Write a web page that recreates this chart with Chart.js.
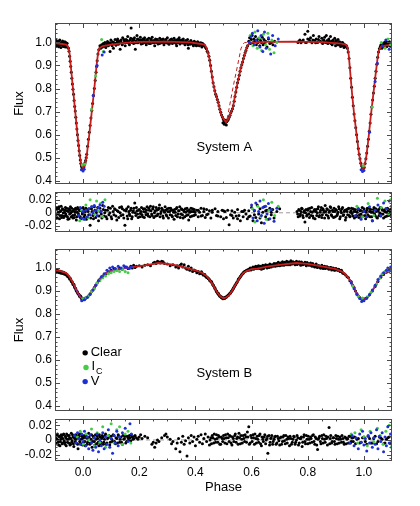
<!DOCTYPE html>
<html>
<head>
<meta charset="utf-8">
<script src="https://cdn.jsdelivr.net/npm/chart.js@4.4.1/dist/chart.umd.min.js"></script>
<style>
  html, body { margin: 0; padding: 0; background: #fff; }
  #wrap { position: relative; width: 420px; height: 506px; }
  canvas { position: absolute; left: 0; }
</style>
</head>
<body>
<div id="wrap">
  <canvas id="fluxA" width="420" height="188" style="top:0px"></canvas>
  <canvas id="resA" width="420" height="48" style="top:188px"></canvas>
  <canvas id="fluxB" width="420" height="177" style="top:238px"></canvas>
  <canvas id="resB" width="420" height="91" style="top:415px"></canvas>
</div>
<script>
// tick labels
var phaseTicks = [0.0, 0.2, 0.4, 0.6, 0.8, 1.0];
var fluxTicks = [0.4, 0.5, 0.6, 0.7, 0.8, 0.9, 1.0];
var resTicks = [-0.02, 0, 0.02];

// System A : model curves (phase, flux)
var modelA = [-0.1,0.997, -0.08,0.994, -0.06,0.99, -0.053,0.98, -0.048,0.95, -0.044,0.9, -0.036,0.8, -0.028,0.7,
  -0.02,0.6, -0.012,0.51, -0.006,0.468, 0.0,0.455, 0.006,0.466, 0.013,0.51, 0.022,0.6, 0.031,0.7, 0.04,0.8,
  0.048,0.9, 0.053,0.95, 0.058,0.975, 0.07,0.984, 0.1,0.99, 0.15,0.998, 0.2,1.002, 0.3,1.003, 0.38,1.0,
  0.42,0.993, 0.433,0.99, 0.44,0.975, 0.45,0.93, 0.456,0.88, 0.462,0.83, 0.47,0.785, 0.48,0.744, 0.492,0.687,
  0.5,0.668, 0.51,0.655, 0.516,0.665, 0.525,0.69, 0.533,0.715, 0.542,0.775, 0.551,0.83, 0.56,0.88, 0.568,0.915,
  0.577,0.955, 0.586,0.987, 0.595,0.998, 0.65,1.002, 0.75,1.003, 0.85,1.001, 0.92,0.995, 0.935,0.99,
  0.941,0.982, 0.946,0.945, 0.952,0.86, 0.958,0.775, 0.965,0.69, 0.974,0.6, 0.982,0.52, 0.989,0.475,
  0.995,0.456, 1.0,0.455, 1.008,0.5, 1.016,0.58, 1.024,0.675, 1.033,0.77, 1.041,0.855, 1.048,0.925,
  1.053,0.965, 1.06,0.98, 1.075,0.986, 1.1,0.99];
var modelA2 = [0.49,0.69, 0.5,0.668, 0.508,0.652, 0.514,0.675, 0.521,0.72, 0.53,0.78, 0.539,0.835, 0.551,0.905,
  0.562,0.972, 0.568,0.99, 0.575,0.999, 0.62,1.002];

// System A : Clear
var clearA = [-0.099,1.002, -0.097,0.993, -0.095,1.008, -0.093,0.985, -0.091,0.998, -0.089,1.004, -0.087,0.981,
  -0.085,0.996, -0.083,1.01, -0.081,0.99, -0.079,0.978, -0.077,1.0, -0.075,0.992, -0.073,1.006, -0.071,0.984,
  -0.069,0.997, -0.067,0.989, -0.065,1.003, -0.063,0.98, -0.061,0.993, -0.059,0.987, -0.057,0.996, -0.055,0.979,
  -0.098,0.99, -0.094,0.996, -0.09,0.988, -0.086,1.005, -0.082,0.994, -0.078,0.99, -0.074,0.998, -0.07,0.982,
  -0.066,0.995, -0.062,1.0, -0.058,0.983,
  -0.052,0.975, -0.05,0.962, -0.048,0.94, -0.046,0.918, -0.044,0.895, -0.042,0.87, -0.04,0.845, -0.038,0.82,
  -0.036,0.797, -0.034,0.775, -0.032,0.748, -0.03,0.722, -0.028,0.703, -0.026,0.675, -0.024,0.65, -0.022,0.624,
  -0.02,0.6, -0.018,0.575, -0.016,0.553, -0.014,0.53, -0.012,0.51, -0.01,0.49, -0.008,0.475, -0.006,0.465,
  -0.004,0.458, -0.002,0.455, 0.001,0.452, 0.003,0.46, 0.005,0.47, 0.007,0.478, 0.009,0.488, 0.011,0.5,
  0.013,0.515, 0.016,0.55, 0.019,0.58, 0.022,0.61, 0.025,0.64, 0.028,0.672, 0.031,0.705, 0.034,0.735,
  0.037,0.77, 0.04,0.8, 0.043,0.835, 0.046,0.87, 0.048,0.895, 0.05,0.92, 0.053,0.95, 0.056,0.968,
  0.06,0.985, 0.063,0.975, 0.066,0.99, 0.069,0.98, 0.072,0.995, 0.075,0.985, 0.078,1.0, 0.081,0.978,
  0.084,0.992, 0.087,1.004, 0.09,0.985, 0.093,0.997, 0.096,0.96, 0.099,1.01, 0.102,0.99, 0.105,1.003,
  0.108,0.975, 0.111,0.996, 0.114,1.012, 0.117,0.988, 0.12,1.0, 0.123,1.015, 0.126,0.992, 0.129,1.005,
  0.132,0.97, 0.135,1.01, 0.138,0.995, 0.141,1.02, 0.144,0.998, 0.147,1.008, 0.15,0.985, 0.153,1.012,
  0.156,1.0, 0.159,1.025, 0.162,1.003, 0.165,0.99, 0.168,1.01, 0.171,1.062, 0.174,1.0, 0.177,1.015,
  0.18,0.995, 0.183,1.02, 0.186,0.97, 0.189,1.006, 0.192,1.03, 0.195,0.998, 0.198,1.012, 0.201,1.002,
  0.204,1.022, 0.207,0.993, 0.21,1.008, 0.213,1.015, 0.216,0.998, 0.219,1.02, 0.222,1.005, 0.225,0.99,
  0.228,1.012, 0.231,1.0, 0.234,1.018, 0.237,1.003, 0.24,0.995, 0.243,1.01, 0.246,1.022, 0.249,0.998,
  0.252,1.008, 0.255,0.985, 0.258,1.015, 0.261,1.0, 0.264,1.012, 0.267,0.993, 0.27,1.005, 0.273,1.018,
  0.276,0.997, 0.279,1.008, 0.282,1.0, 0.285,1.015, 0.288,0.99, 0.291,1.004, 0.294,1.012, 0.297,0.998,
  0.3,1.02, 0.303,1.003, 0.306,0.992, 0.309,1.01, 0.312,1.0, 0.315,1.015, 0.318,0.995, 0.321,1.006,
  0.324,1.018, 0.327,0.998, 0.33,1.008, 0.333,0.985, 0.336,1.012, 0.339,1.0, 0.342,1.02, 0.345,0.993,
  0.348,1.005, 0.351,1.01, 0.354,0.997, 0.357,1.015, 0.36,1.003, 0.363,0.99, 0.366,1.008, 0.369,0.998,
  0.372,1.012, 0.375,0.975, 0.378,1.002, 0.381,0.992, 0.384,1.008, 0.387,0.995, 0.39,1.0, 0.393,0.985,
  0.396,1.005, 0.399,0.993, 0.402,0.998, 0.405,0.988, 0.408,1.003, 0.411,0.992, 0.414,0.985, 0.417,0.998,
  0.42,0.99, 0.423,0.98, 0.426,0.995,
  0.0615,0.978, 0.0675,0.985, 0.0735,0.99, 0.0795,0.983, 0.0855,0.995, 0.0915,0.99, 0.0975,0.998, 0.1035,0.985,
  0.1095,1.0, 0.1155,0.995, 0.1215,1.008, 0.1275,0.998, 0.1335,1.005, 0.1395,0.99, 0.1455,1.012, 0.1515,1.0,
  0.1575,1.008, 0.1635,0.995, 0.1695,1.018, 0.1755,1.005, 0.1815,1.01, 0.1875,0.998, 0.1935,1.015, 0.1995,1.005,
  0.2055,1.01, 0.2115,0.995, 0.2175,1.012, 0.2235,1.0, 0.2295,1.006, 0.2355,0.995, 0.2415,1.015, 0.2475,1.005,
  0.2535,1.0, 0.2595,1.01, 0.2655,1.005, 0.2715,0.995, 0.2775,1.012, 0.2835,1.005, 0.2895,1.0, 0.2955,1.01,
  0.3015,0.997, 0.3075,1.005, 0.3135,1.012, 0.3195,1.0, 0.3255,1.008, 0.3315,0.995, 0.3375,1.005, 0.3435,1.01,
  0.3495,1.0, 0.3555,1.006, 0.3615,0.995, 0.3675,1.003, 0.3735,0.99, 0.3795,0.998, 0.3855,1.0, 0.3915,0.99,
  0.3975,0.998, 0.4035,0.985, 0.4095,0.995, 0.4155,0.99, 0.4215,0.997, 0.4275,0.985,
  0.43,0.99, 0.433,0.985, 0.436,0.978, 0.439,0.972, 0.442,0.962,
  0.445,0.955, 0.448,0.94, 0.451,0.922, 0.454,0.9, 0.457,0.875, 0.46,0.85, 0.463,0.825, 0.466,0.808,
  0.469,0.79, 0.472,0.775, 0.475,0.765, 0.478,0.752, 0.481,0.74, 0.484,0.725, 0.487,0.71, 0.49,0.697,
  0.493,0.685, 0.496,0.676, 0.499,0.668, 0.502,0.662, 0.505,0.658, 0.508,0.654, 0.511,0.656, 0.514,0.66,
  0.503,0.645, 0.507,0.662, 0.51,0.642, 0.498,0.652, 0.517,0.666, 0.52,0.675, 0.523,0.684, 0.526,0.695,
  0.529,0.703, 0.532,0.712, 0.535,0.725, 0.538,0.745, 0.541,0.765, 0.544,0.785, 0.547,0.805, 0.55,0.825,
  0.553,0.84, 0.556,0.858, 0.559,0.875, 0.562,0.89, 0.565,0.903, 0.568,0.915, 0.571,0.93, 0.574,0.943,
  0.577,0.955, 0.58,0.965, 0.583,0.977, 0.586,0.985, 0.59,1.005, 0.593,1.02, 0.596,0.995, 0.599,1.012,
  0.602,1.03, 0.605,0.998, 0.608,1.015, 0.611,1.005, 0.614,1.025, 0.617,0.99, 0.62,1.01, 0.623,1.0,
  0.626,1.018, 0.629,0.985, 0.632,1.008, 0.635,1.0, 0.638,1.022, 0.641,0.99, 0.644,1.012, 0.647,0.995,
  0.65,1.005, 0.655,0.98, 0.66,1.015, 0.665,0.995, 0.67,1.0, 0.676,0.99, 0.682,1.005,
  0.765,1.0, 0.772,1.01, 0.78,1.005, 0.79,1.035, 0.795,1.0, 0.8,1.048, 0.805,1.012, 0.81,1.02, 0.815,0.998,
  0.82,1.03, 0.825,1.008, 0.83,1.015, 0.835,1.0, 0.84,1.025, 0.845,1.005, 0.85,1.018, 0.853,0.995,
  0.856,1.01, 0.86,1.022, 0.863,1.0, 0.866,1.03, 0.869,1.008, 0.872,0.995, 0.875,1.015, 0.878,1.0,
  0.881,1.025, 0.884,1.005, 0.887,0.99, 0.89,1.01, 0.893,1.0, 0.896,1.018, 0.899,0.985, 0.902,1.005,
  0.905,0.995, 0.908,1.012, 0.911,0.99, 0.914,1.0, 0.917,0.982, 0.92,0.998, 0.923,0.985, 0.926,0.995,
  0.929,0.978, 0.932,0.99, 0.935,0.985,
  0.768,1.005, 0.776,0.998, 0.784,1.01, 0.792,1.0, 0.8,1.015, 0.808,1.005, 0.818,1.01, 0.828,0.998, 0.838,1.012,
  0.848,1.002, 0.858,1.008, 0.868,0.998, 0.876,1.005, 0.883,0.995, 0.888,1.003, 0.895,0.997, 0.9,1.008,
  0.907,0.99, 0.913,1.003, 0.918,0.993, 0.924,1.0, 0.928,0.99, 0.933,0.982,
  0.938,0.985, 0.941,0.975, 0.944,0.958, 0.947,0.93, 0.95,0.89,
  0.953,0.845, 0.956,0.805, 0.959,0.762, 0.962,0.725, 0.965,0.69, 0.968,0.66, 0.971,0.63, 0.974,0.6,
  0.977,0.57, 0.98,0.54, 0.983,0.515, 0.986,0.495, 0.989,0.476, 0.992,0.464, 0.995,0.456, 0.998,0.454,
  1.001,0.458, 1.004,0.475, 1.007,0.495, 1.01,0.52, 1.013,0.55, 1.016,0.58, 1.019,0.615, 1.022,0.65,
  1.025,0.688, 1.028,0.72, 1.031,0.75, 1.034,0.78, 1.037,0.81, 1.04,0.845, 1.043,0.875, 1.046,0.905,
  1.049,0.935, 1.052,0.958, 1.055,0.972, 1.058,0.98, 1.061,0.99, 1.064,0.975, 1.067,0.995, 1.07,0.985,
  1.073,1.0, 1.076,0.99, 1.079,1.005, 1.082,0.982, 1.085,0.998, 1.088,0.99, 1.091,1.003, 1.094,0.985,
  1.097,0.995, 1.06,0.985, 1.066,0.98, 1.072,0.99, 1.078,0.995, 1.084,0.988, 1.09,0.996, 1.096,0.99];
var icA = [-0.003,0.468, 0.006,0.472, 0.03,0.71, 0.045,0.855, 0.066,1.012, 0.072,0.96, 0.595,1.03, 0.605,0.985,
  0.612,1.045, 0.62,0.975, 0.628,1.02, 0.636,0.965, 0.642,1.035, 0.65,0.99, 0.658,1.04, 0.664,0.97,
  0.672,1.01, 0.68,0.955, 0.69,1.0, 0.998,0.465, 1.03,0.72, 1.062,1.0, 1.075,0.975, 1.085,1.015, 1.095,0.99];
var vA = [-0.006,0.448, 0.0,0.442, 0.004,0.45, 0.036,0.77, 0.05,0.9, 0.068,0.945, 0.075,0.958, 0.592,1.0,
  0.598,1.025, 0.603,1.04, 0.61,0.99, 0.616,1.01, 0.622,1.05, 0.63,0.98, 0.634,1.03, 0.64,0.96, 0.646,1.045,
  0.652,0.975, 0.66,1.02, 0.668,0.95, 0.675,1.03, 0.684,0.985, 0.695,1.015, 0.99,0.448, 0.995,0.44,
  1.0,0.445, 1.02,0.61, 1.04,0.83, 1.048,0.91, 1.065,0.985, 1.078,1.01, 1.09,0.97, 1.098,1.0];

// System A : residuals
var clearResA = [-0.099,0.004, -0.096,-0.006, -0.093,0.008, -0.09,-0.002, -0.087,0.006, -0.084,-0.009,
  -0.081,0.002, -0.078,0.01, -0.075,-0.004, -0.072,0.005, -0.069,-0.007, -0.066,0.001, -0.063,0.008,
  -0.06,-0.005, -0.057,0.003, -0.054,-0.01, -0.051,0.006, -0.048,-0.002, -0.045,0.009, -0.042,-0.006,
  -0.039,0.002, -0.036,-0.008, -0.033,0.005, -0.03,-0.003, -0.027,0.007, -0.024,-0.011, -0.021,0.001,
  -0.018,0.006, -0.015,-0.005, -0.012,0.003, -0.009,-0.008, -0.006,0.004, -0.003,-0.002, 0.0,0.008,
  0.004,-0.006, 0.008,0.002, 0.012,-0.01, 0.016,0.005, 0.02,-0.003, 0.025,-0.019, 0.03,0.006, 0.035,-0.004,
  0.04,0.009, 0.045,-0.007, 0.05,0.003, 0.055,-0.012, 0.06,0.007, 0.065,-0.002, 0.07,0.011, 0.075,-0.005,
  0.08,0.004, 0.085,-0.009, 0.09,0.008, 0.095,0.0, 0.1,-0.006, 0.105,0.01, 0.11,-0.003, 0.115,0.005,
  0.12,-0.011, 0.125,0.002, 0.13,0.008, 0.135,-0.004, 0.14,0.006, 0.145,-0.008, 0.149,-0.019, 0.153,0.003,
  0.157,-0.005, 0.161,0.009, 0.165,-0.002, 0.169,0.004, 0.173,-0.009, 0.177,0.001, 0.181,0.007, 0.184,0.015,
  0.188,-0.004, 0.192,0.003, 0.196,-0.007, 0.2,0.005, 0.204,-0.001, 0.208,0.008, 0.212,-0.006, 0.216,0.002,
  0.22,0.006, 0.224,-0.003, 0.228,0.009, 0.232,-0.005, 0.236,0.004, 0.24,0.01, 0.244,-0.002, 0.248,0.006,
  0.252,-0.007, 0.256,0.003, 0.26,0.008, 0.264,-0.004, 0.268,0.005, 0.272,0.012, 0.276,-0.001, 0.28,0.007,
  0.284,-0.005, 0.288,0.003, 0.292,0.009, 0.296,-0.003, 0.3,0.006, 0.304,-0.008, 0.308,0.002, 0.312,0.007,
  0.316,-0.004, 0.32,0.004, 0.324,-0.01, 0.328,0.001, 0.332,0.006, 0.336,-0.006, 0.34,0.003, 0.344,0.009,
  0.348,-0.002, 0.352,0.005, 0.356,-0.008, 0.36,0.002, 0.364,0.006, 0.368,-0.004, 0.372,0.003, 0.376,-0.011,
  0.38,0.001, 0.384,0.007, 0.388,-0.005, 0.392,0.002, 0.396,0.005, 0.4,-0.003, 0.405,0.004, 0.41,-0.006,
  0.415,0.001, 0.42,0.007, 0.425,-0.004, 0.43,0.002, 0.435,-0.007, 0.44,0.005, 0.445,-0.002, 0.45,0.003,
  0.455,-0.008, 0.46,0.001, 0.47,0.006, 0.475,-0.004, 0.48,0.002, 0.49,-0.006, 0.495,0.004, 0.5,-0.009,
  0.505,0.002, 0.51,-0.007, 0.515,0.004, 0.52,-0.018, 0.525,-0.003, 0.53,0.003, 0.535,-0.008, 0.54,0.001,
  0.545,-0.005, 0.55,0.005, 0.555,-0.004, 0.56,-0.012, 0.565,0.002, 0.57,-0.006, 0.575,0.004, 0.58,-0.002,
  0.585,-0.009, 0.59,0.003, 0.595,-0.005, 0.6,0.008, 0.605,-0.012, 0.61,0.003, 0.615,-0.007, 0.62,0.012,
  0.625,-0.002, 0.63,0.006, 0.635,-0.015, 0.64,0.001, 0.645,0.009, 0.65,-0.006, 0.655,0.004, 0.66,-0.01,
  0.665,0.007, 0.67,-0.003, 0.675,0.005, 0.68,-0.008, 0.69,0.002, 0.7,0.006,
  0.762,0.002, 0.766,-0.006, 0.77,0.004, 0.774,-0.002, 0.778,0.007, 0.782,-0.004, 0.786,0.001, 0.79,-0.014,
  0.794,0.005, 0.798,-0.003, 0.802,0.006, 0.806,-0.007, 0.81,0.002, 0.814,0.008, 0.818,-0.005, 0.822,0.003,
  0.826,-0.009, 0.83,0.005, 0.834,0.0, 0.838,0.009, 0.842,-0.004, 0.846,0.004, 0.85,-0.007, 0.854,0.006,
  0.858,0.001, 0.862,0.011, 0.866,-0.003, 0.87,0.005, 0.874,-0.008, 0.878,0.003, 0.882,0.008, 0.886,-0.005,
  0.89,0.002, 0.894,0.007, 0.898,-0.006, 0.902,0.004, 0.906,-0.002, 0.91,0.009, 0.914,-0.009, 0.918,0.003,
  0.922,0.006, 0.926,-0.004, 0.93,0.002, 0.934,-0.011, 0.938,0.005, 0.942,-0.003, 0.946,0.007, 0.95,-0.006,
  0.954,0.003, 0.958,-0.001, 0.962,0.006, 0.966,-0.008, 0.97,0.002, 0.974,-0.004, 0.978,0.005, 0.982,-0.007,
  0.986,0.003, 0.99,-0.002, 0.994,0.008, 0.998,-0.005, 1.002,0.002, 1.006,-0.009, 1.01,0.004, 1.014,-0.003,
  1.018,0.007, 1.022,-0.006, 1.026,0.001, 1.03,-0.012, 1.034,0.005, 1.038,-0.002, 1.042,0.006, 1.046,-0.007,
  1.05,0.003, 1.054,-0.004, 1.058,0.008, 1.062,-0.002, 1.066,0.004, 1.07,-0.008, 1.074,0.002, 1.078,0.006,
  1.082,-0.005, 1.086,0.003, 1.09,-0.003, 1.094,0.005, 1.098,-0.006,
  -0.0985,-0.003, -0.0945,0.005, -0.0915,-0.008, -0.0885,0.001, -0.0855,0.009, -0.0825,-0.004, -0.0795,0.003,
  -0.0765,-0.007, -0.0735,0.006, -0.0705,0.0, -0.0675,-0.005, -0.0645,0.004, -0.0615,-0.002, -0.0585,0.007,
  -0.0555,-0.006, -0.0525,0.002, -0.0495,-0.009, -0.0465,0.004, -0.0435,0.0, -0.0405,0.007, -0.0375,-0.004,
  -0.0345,0.003, -0.0315,-0.007, -0.0285,0.001, -0.0255,0.005, -0.0225,-0.006, -0.0195,0.008, -0.0165,-0.002,
  -0.0135,0.004, -0.0105,-0.006, -0.0075,0.006, -0.0045,-0.009, -0.0015,0.001, 0.002,0.005, 0.006,-0.003,
  0.01,0.007, 0.014,-0.007, 0.018,0.002, 0.022,0.006, 0.027,-0.008, 0.032,0.002, 0.037,-0.009, 0.042,0.004,
  0.047,0.0, 0.052,0.008, 0.057,-0.005, 0.062,0.002, 0.067,-0.008, 0.072,0.005, 0.077,0.0, 0.082,-0.006,
  0.087,0.004, 0.092,-0.003, 0.097,0.007, 0.102,-0.009, 0.107,0.002, 0.112,0.006, 0.117,-0.005, 0.122,0.003,
  0.127,-0.007, 0.132,0.0, 0.137,0.009, 0.142,-0.003, 0.147,0.004, 0.155,0.006, 0.159,-0.009, 0.163,0.002,
  0.167,-0.004, 0.171,0.007, 0.175,-0.006, 0.179,0.003, 0.186,0.0, 0.19,0.008, 0.194,-0.002, 0.198,0.004,
  0.202,-0.006, 0.206,0.002, 0.21,-0.003, 0.214,0.006, 0.218,-0.007, 0.222,0.001, 0.226,0.004, 0.23,-0.002,
  0.234,0.007, 0.238,-0.006, 0.242,0.003, 0.246,-0.004, 0.25,0.009, 0.254,0.0, 0.258,-0.005, 0.262,0.004,
  0.266,-0.002, 0.27,0.007, 0.274,-0.006, 0.278,0.002, 0.282,0.005, 0.286,-0.008, 0.29,0.001, 0.294,0.004,
  0.298,-0.005, 0.302,0.002, 0.306,0.007, 0.31,-0.003, 0.314,0.004, 0.318,-0.006, 0.322,0.001, 0.326,0.005,
  0.33,-0.004, 0.334,0.008, 0.338,-0.002, 0.342,0.003, 0.346,-0.007, 0.35,0.006, 0.354,-0.003, 0.358,0.004,
  0.362,-0.006, 0.366,0.001, 0.37,0.007, 0.374,-0.003, 0.378,0.004, 0.382,-0.006, 0.386,0.002, 0.39,0.006,
  0.394,-0.004, 0.398,0.001, 0.41,0.004, 0.42,-0.005, 0.43,0.006, 0.44,-0.003, 0.46,0.004, 0.48,-0.005,
  0.5,0.003, 0.53,-0.004, 0.55,-0.009, 0.57,0.002, 0.59,-0.006, 0.61,-0.003, 0.63,-0.008, 0.65,0.003, 0.67,0.001,
  0.764,-0.002, 0.768,0.005, 0.772,-0.005, 0.776,0.002, 0.78,0.006, 0.784,-0.007, 0.788,0.003, 0.792,0.0,
  0.796,-0.005, 0.8,0.004, 0.804,-0.002, 0.808,0.007, 0.812,-0.004, 0.816,0.001, 0.82,-0.008, 0.824,0.005,
  0.828,0.002, 0.832,-0.004, 0.836,0.006, 0.84,-0.006, 0.844,0.001, 0.848,0.008, 0.852,-0.003, 0.856,0.004,
  0.86,-0.008, 0.864,0.002, 0.868,0.006, 0.872,-0.005, 0.876,0.001, 0.88,0.009, 0.884,-0.003, 0.888,0.004,
  0.892,-0.007, 0.896,0.002, 0.9,0.005, 0.904,-0.004, 0.908,0.001, 0.912,0.006, 0.916,-0.006, 0.92,0.0,
  0.924,0.008, 0.928,-0.003, 0.932,0.004, 0.936,-0.007, 0.94,0.002, 0.944,0.006, 0.948,-0.004, 0.952,0.001,
  0.956,0.007, 0.96,-0.005, 0.964,0.002, 0.968,0.005, 0.972,-0.006, 0.976,0.001, 0.98,0.006, 0.984,-0.003,
  0.988,0.004, 0.992,-0.006, 0.996,0.002, 1.0,0.006, 1.004,-0.004, 1.008,0.001, 1.012,0.007, 1.016,-0.005,
  1.02,0.002, 1.024,0.005, 1.028,-0.006, 1.032,0.001, 1.036,0.008, 1.04,-0.004, 1.044,0.002, 1.048,-0.008,
  1.052,0.005, 1.056,0.0, 1.06,-0.005, 1.064,0.006, 1.068,-0.002, 1.072,0.004, 1.076,-0.006, 1.08,0.001,
  1.084,0.007, 1.088,-0.004, 1.092,0.002, 1.096,-0.002, 1.1,0.004];
var icResA = [-0.012,-0.012, -0.005,0.004, 0.002,-0.01, 0.01,0.012, 0.018,-0.008, 0.025,0.02, 0.032,0.01,
  0.04,-0.002, 0.048,0.018, 0.055,0.003, 0.062,0.014, 0.07,-0.006, 0.078,0.02, 0.603,0.006, 0.612,-0.014,
  0.622,0.01, 0.632,-0.006, 0.642,0.02, 0.652,-0.01, 0.662,0.004, 0.672,0.016, 0.682,-0.004, 0.695,0.01,
  0.975,0.01, 0.995,-0.006, 1.015,0.014, 1.035,-0.004, 1.048,0.022, 1.062,0.008, 1.075,0.018, 1.088,-0.002,
  1.095,0.02];
var vResA = [-0.015,-0.004, -0.01,0.008, -0.005,-0.008, 0.0,0.002, 0.005,-0.01, 0.01,0.004, 0.015,-0.006,
  0.02,0.006, 0.025,-0.003, 0.03,0.009, 0.035,0.0, 0.04,0.011, 0.045,0.004, 0.05,-0.004, 0.055,0.008,
  0.06,0.012, 0.065,0.002, 0.07,0.016, 0.075,0.01, 0.6,0.012, 0.605,-0.008, 0.61,0.004, 0.615,0.015,
  0.62,-0.012, 0.625,0.002, 0.63,0.018, 0.635,-0.004, 0.64,0.008, 0.645,-0.016, 0.65,0.01, 0.655,-0.002,
  0.66,0.014, 0.665,-0.009, 0.67,0.005, 0.68,-0.013, 0.69,0.007, 0.97,-0.004, 0.98,0.006, 0.99,-0.01,
  1.0,0.002, 1.01,-0.006, 1.02,0.009, 1.03,-0.012, 1.04,0.004, 1.05,0.012, 1.06,-0.004, 1.07,0.015,
  1.08,0.006, 1.09,0.018, 1.098,0.01];

// System B : model curves
var modelB = [-0.1,0.99, -0.08,0.987, -0.06,0.978, -0.05,0.965, -0.04,0.945, -0.03,0.92, -0.02,0.895,
  -0.01,0.875, 0.0,0.864, 0.01,0.866, 0.02,0.877, 0.03,0.895, 0.04,0.915, 0.05,0.935, 0.06,0.952,
  0.07,0.966, 0.08,0.976, 0.1,0.988, 0.13,0.995, 0.18,1.005, 0.22,1.012, 0.27,1.022, 0.32,1.015,
  0.36,1.003, 0.4,0.99, 0.42,0.982, 0.44,0.965, 0.45,0.95, 0.46,0.932, 0.47,0.91, 0.48,0.89, 0.49,0.875,
  0.5,0.869, 0.51,0.872, 0.52,0.882, 0.53,0.9, 0.54,0.922, 0.55,0.942, 0.56,0.962, 0.57,0.978, 0.58,0.986,
  0.6,0.995, 0.62,0.998, 0.66,1.007, 0.72,1.017, 0.76,1.022, 0.8,1.018, 0.86,1.005, 0.9,0.995, 0.92,0.986,
  0.93,0.978, 0.94,0.965, 0.95,0.948, 0.96,0.928, 0.97,0.9, 0.98,0.878, 0.99,0.866, 1.0,0.864, 1.01,0.868,
  1.02,0.882, 1.03,0.9, 1.04,0.922, 1.05,0.945, 1.06,0.962, 1.07,0.975, 1.08,0.983, 1.1,0.99];
var modelVB1 = [-0.03,0.92, -0.02,0.895, -0.01,0.875, 0.0,0.864, 0.01,0.866, 0.02,0.877, 0.03,0.895,
  0.04,0.915, 0.05,0.935, 0.06,0.952, 0.07,0.966, 0.08,0.976, 0.1,0.988, 0.13,0.995, 0.17,1.003];
var modelVB2 = [0.95,0.948, 0.96,0.928, 0.97,0.9, 0.98,0.878, 0.99,0.866, 1.0,0.864, 1.01,0.868, 1.02,0.882,
  1.03,0.9, 1.04,0.922, 1.05,0.945, 1.06,0.962, 1.07,0.975, 1.08,0.983, 1.1,0.99];

// System B : Clear
var clearB = [-0.099,0.993, -0.096,0.985, -0.093,0.99, -0.09,0.982, -0.087,0.988, -0.084,0.98, -0.081,0.986,
  -0.078,0.978, -0.075,0.984, -0.072,0.976, -0.069,0.982, -0.066,0.973, -0.063,0.978, -0.06,0.97,
  -0.057,0.972, -0.054,0.962, -0.051,0.963, -0.048,0.952, -0.045,0.955, -0.042,0.942, -0.039,0.94,
  -0.036,0.928, -0.033,0.93, -0.03,0.915, -0.027,0.912, -0.024,0.9, -0.021,0.898, -0.018,0.888,
  -0.015,0.886, -0.012,0.876, -0.009,0.878, -0.006,0.868, -0.003,0.87, 0.0,0.862,
  -0.0975,0.988, -0.0915,0.986, -0.0855,0.984, -0.0795,0.982, -0.0735,0.98, -0.0675,0.976, -0.0615,0.974,
  -0.0555,0.966, -0.0495,0.958, -0.0435,0.948, -0.0375,0.935, -0.0315,0.922, -0.0255,0.906, -0.0195,0.893,
  -0.0135,0.881, -0.0075,0.872, -0.0015,0.866,
  0.003,0.868, 0.006,0.865,
  0.009,0.87, 0.012,0.872, 0.015,0.874, 0.02,0.88, 0.025,0.888, 0.03,0.898, 0.035,0.905, 0.04,0.915,
  0.045,0.925, 0.05,0.935, 0.055,0.945, 0.06,0.952, 0.07,0.966, 0.08,0.975, 0.09,0.984, 0.1,0.99,
  0.11,0.998, 0.12,0.992, 0.13,1.0, 0.14,0.995, 0.15,1.005, 0.16,0.998, 0.17,1.008, 0.175,1.0, 0.18,1.012,
  0.185,1.002, 0.19,1.008, 0.2,1.01, 0.21,1.005, 0.22,1.012, 0.23,1.015, 0.24,1.01, 0.25,1.022, 0.255,1.025,
  0.26,1.02, 0.265,1.03, 0.27,1.026, 0.275,1.022, 0.28,1.03, 0.285,1.028, 0.29,1.02, 0.3,1.018, 0.31,1.01,
  0.32,1.015, 0.33,1.005, 0.335,1.01, 0.34,1.0, 0.345,1.012, 0.35,1.018, 0.355,1.005, 0.36,1.015,
  0.365,1.0, 0.37,0.995, 0.375,1.008, 0.38,0.99, 0.385,1.0, 0.39,0.985, 0.395,0.992, 0.4,0.988, 0.405,0.98,
  0.41,0.985, 0.415,0.975, 0.42,0.98, 0.423,0.978, 0.426,0.975, 0.429,0.972, 0.432,0.97, 0.435,0.966,
  0.438,0.963, 0.441,0.96, 0.444,0.958, 0.447,0.953, 0.45,0.95, 0.453,0.945, 0.456,0.94, 0.459,0.935,
  0.462,0.928, 0.465,0.922, 0.468,0.915, 0.471,0.908, 0.474,0.9, 0.477,0.895, 0.48,0.888, 0.483,0.884,
  0.486,0.878, 0.489,0.876, 0.492,0.872, 0.495,0.87, 0.498,0.866, 0.501,0.87, 0.504,0.868, 0.507,0.872,
  0.51,0.873, 0.513,0.878, 0.516,0.88, 0.519,0.884, 0.522,0.888, 0.525,0.892, 0.528,0.898, 0.531,0.904,
  0.534,0.91, 0.537,0.916, 0.54,0.922, 0.543,0.928, 0.546,0.935, 0.549,0.94, 0.552,0.948, 0.555,0.953,
  0.558,0.958, 0.561,0.964, 0.564,0.97, 0.567,0.975, 0.57,0.978, 0.575,0.985, 0.58,0.988, 0.585,0.992,
  0.4215,0.984, 0.4275,0.97, 0.4335,0.972, 0.4395,0.96, 0.4455,0.955, 0.4515,0.945, 0.4575,0.94, 0.4635,0.925,
  0.4695,0.913, 0.4755,0.9, 0.4815,0.89, 0.4875,0.88, 0.4935,0.874, 0.4995,0.87, 0.5055,0.873, 0.5115,0.876,
  0.5175,0.883, 0.5235,0.892, 0.5295,0.9, 0.5355,0.912, 0.5415,0.926, 0.5475,0.936, 0.5535,0.952, 0.5595,0.962,
  0.5655,0.972, 0.5715,0.982, 0.5775,0.986, 0.5835,0.99, 0.5895,0.995,
  0.59,0.99, 0.595,1.0, 0.6,0.995, 0.605,1.005, 0.61,0.998, 0.615,1.008, 0.62,1.0, 0.625,1.01, 0.63,1.002,
  0.635,0.995, 0.64,1.012, 0.645,1.005, 0.65,1.015, 0.655,1.0, 0.66,1.01, 0.665,1.018, 0.67,1.005,
  0.675,1.012, 0.68,1.02, 0.685,1.008, 0.69,1.015, 0.695,1.025, 0.7,1.01, 0.705,1.018, 0.71,1.028,
  0.715,1.012, 0.72,1.02, 0.725,1.03, 0.73,1.015, 0.735,1.022, 0.74,1.032, 0.745,1.018, 0.75,1.025,
  0.755,1.015, 0.76,1.03, 0.765,1.02, 0.77,1.028, 0.775,1.012, 0.78,1.022, 0.785,1.018, 0.79,1.025,
  0.795,1.01, 0.8,1.02, 0.805,1.012, 0.81,1.022, 0.815,1.008, 0.82,1.015, 0.825,1.005, 0.83,1.018,
  0.835,1.002, 0.84,1.01, 0.845,1.0, 0.85,1.012, 0.855,0.998, 0.86,1.008, 0.865,1.0, 0.87,1.005,
  0.875,0.995, 0.88,1.002, 0.885,0.992, 0.89,1.0, 0.895,0.99, 0.9,0.998, 0.905,0.992, 0.91,0.995,
  0.915,0.985, 0.92,0.99, 0.925,0.978,
  0.5975,0.992, 0.6025,1.0, 0.6075,0.995, 0.6125,1.005, 0.6175,0.998, 0.6225,1.008, 0.6275,0.998, 0.6325,1.008,
  0.6375,1.003, 0.6425,0.998, 0.6475,1.01, 0.6525,1.005, 0.6575,1.012, 0.6625,1.002, 0.6675,1.01, 0.6725,1.015,
  0.6775,1.008, 0.6825,1.012, 0.6875,1.02, 0.6925,1.01, 0.6975,1.015, 0.7025,1.022, 0.7075,1.012, 0.7125,1.018,
  0.7175,1.025, 0.7225,1.015, 0.7275,1.02, 0.7325,1.026, 0.7375,1.015, 0.7425,1.022, 0.7475,1.028, 0.7525,1.02,
  0.7575,1.024, 0.7625,1.016, 0.7675,1.025, 0.7725,1.02, 0.7775,1.026, 0.7825,1.015, 0.7875,1.02, 0.7925,1.016,
  0.7975,1.024, 0.8025,1.015, 0.8075,1.018, 0.8125,1.012, 0.8175,1.02, 0.8225,1.008, 0.8275,1.012, 0.8325,1.005,
  0.8375,1.01, 0.8425,1.006, 0.8475,1.0, 0.8525,1.008, 0.8575,1.003, 0.8625,0.998, 0.8675,1.006, 0.8725,1.0,
  0.8775,0.998, 0.8825,1.003, 0.8875,0.995, 0.8925,0.998, 0.8975,0.992, 0.9025,0.996, 0.9075,0.99, 0.9125,0.992,
  0.9175,0.988, 0.9225,0.984,
  0.93,0.975, 0.935,0.97, 0.94,0.962, 0.945,0.958, 0.95,0.945,
  0.955,0.94, 0.96,0.925, 0.965,0.915, 0.97,0.9, 0.975,0.888, 0.98,0.878, 0.985,0.872, 0.99,0.866,
  0.995,0.862, 1.0,0.865, 1.005,0.866, 1.01,0.87, 1.02,0.884, 1.03,0.9, 1.04,0.92, 1.05,0.942, 1.06,0.96,
  1.07,0.972, 1.08,0.982, 1.09,0.986, 1.1,0.99];
var icB = [0.0,0.868, 0.01,0.872, 0.02,0.878, 0.03,0.898, 0.04,0.91, 0.05,0.935, 0.06,0.945, 0.07,0.958,
  0.08,0.965, 0.09,0.975, 0.1,0.98, 0.11,0.985, 0.12,0.99, 0.13,0.985, 0.14,0.995, 0.15,0.985, 0.16,0.98,
  0.96,0.922, 0.98,0.876, 0.995,0.87, 1.012,0.875, 1.025,0.895, 1.045,0.93, 1.055,0.955, 1.065,0.975,
  1.075,0.985, 1.088,0.99, 1.098,0.995];
var vB = [-0.005,0.858, 0.005,0.862, 0.015,0.872, 0.025,0.885, 0.035,0.905, 0.045,0.925, 0.055,0.945,
  0.065,0.962, 0.075,0.975, 0.085,0.99, 0.095,1.0, 0.105,1.005, 0.115,0.998, 0.125,1.008, 0.135,1.0,
  0.145,1.01, 0.155,1.005, 0.165,0.998, 0.172,1.005, 0.955,0.935, 0.965,0.91, 0.975,0.885, 0.985,0.868,
  0.992,0.855, 1.0,0.858, 1.01,0.87, 1.02,0.885, 1.03,0.905, 1.04,0.925, 1.05,0.95, 1.06,0.965, 1.07,0.98,
  1.08,0.99, 1.085,1.0, 1.09,0.993, 1.095,1.005, 1.1,0.997];

// System B : residuals
var clearResB = [-0.099,0.003, -0.096,-0.004, -0.093,0.006, -0.09,0.0, -0.087,-0.007, -0.084,0.004,
  -0.081,-0.002, -0.078,0.007, -0.075,-0.005, -0.072,0.002, -0.069,0.008, -0.066,-0.003, -0.063,0.005,
  -0.06,-0.008, -0.057,0.001, -0.054,0.006, -0.051,-0.004, -0.048,0.003, -0.045,-0.006, -0.042,0.009,
  -0.039,-0.001, -0.036,0.004, -0.033,-0.009, -0.03,0.002, -0.027,0.007, -0.024,-0.004, -0.021,0.003,
  -0.018,-0.012, -0.015,0.005, -0.012,-0.002, -0.009,0.008, -0.006,-0.006, -0.003,0.002, 0.0,-0.004,
  0.004,0.006, 0.008,-0.008, 0.012,0.003, 0.016,-0.003, 0.02,0.009, 0.024,-0.006, 0.028,0.001, 0.032,-0.01,
  0.036,0.005, 0.04,-0.002, 0.044,0.007, 0.048,-0.005, 0.052,0.002, 0.056,-0.008, 0.06,0.004, 0.064,-0.003,
  0.068,0.006, 0.072,-0.006, 0.076,0.001, 0.08,0.008, 0.085,-0.004, 0.09,0.003, 0.095,-0.007, 0.1,0.005,
  0.105,-0.002, 0.11,0.006, 0.115,-0.005, 0.12,0.002, 0.125,0.007, 0.13,-0.003, 0.135,0.004, 0.14,-0.006,
  0.145,0.001, 0.15,0.005, 0.155,-0.002, 0.16,0.003, 0.165,0.006, 0.17,-0.001, 0.175,0.004, 0.18,0.002,
  0.185,0.006, 0.19,0.003, 0.195,0.001, 0.2,0.004, 0.205,0.007, 0.21,0.002, 0.22,0.005, 0.23,0.003,
  0.245,-0.006, 0.25,-0.003, 0.255,-0.01, 0.26,-0.004, 0.265,0.0, 0.27,-0.002, 0.28,0.003, 0.29,0.006,
  0.295,0.008, 0.3,0.004, 0.31,0.001, 0.315,-0.005, 0.32,-0.002, 0.33,-0.012, 0.335,-0.004, 0.34,0.002,
  0.345,-0.016, 0.35,-0.003, 0.355,0.005, 0.36,-0.006, 0.365,-0.001, 0.37,-0.022, 0.375,0.003, 0.38,-0.004,
  0.385,0.006, 0.39,-0.002, 0.395,0.004, 0.4,-0.008, 0.405,0.001, 0.41,0.005, 0.415,-0.003, 0.42,0.007,
  0.425,-0.005, 0.43,0.002, 0.435,0.008, 0.44,-0.002, 0.445,0.004, 0.45,-0.007, 0.455,0.003, 0.46,0.006,
  0.465,-0.004, 0.47,0.001, 0.475,0.007, 0.48,-0.003, 0.485,0.004, 0.49,-0.006, 0.495,0.002, 0.5,0.006,
  0.505,-0.004, 0.51,0.003, 0.515,0.008, 0.52,-0.002, 0.525,0.005, 0.53,-0.007, 0.535,0.002, 0.54,0.006,
  0.545,-0.003, 0.55,0.004, 0.555,0.009, 0.56,-0.005, 0.565,0.001, 0.57,0.006, 0.575,-0.002, 0.58,0.004,
  0.585,0.011, 0.59,0.018, 0.595,-0.004, 0.6,0.003, 0.605,0.007, 0.61,-0.006, 0.615,0.002, 0.62,0.005,
  0.625,-0.003, 0.63,0.008, 0.635,-0.008, 0.64,0.001, 0.645,0.004, 0.65,-0.005, 0.655,0.002, 0.658,-0.018,
  0.662,0.006, 0.666,-0.003, 0.67,0.003, 0.675,-0.006, 0.68,0.001, 0.685,0.005, 0.69,-0.004, 0.695,0.002,
  0.7,-0.007, 0.705,0.004, 0.71,-0.002, 0.715,0.006, 0.72,-0.005, 0.725,0.001, 0.73,0.004, 0.735,-0.008,
  0.74,0.002, 0.745,-0.003, 0.75,0.005, 0.755,-0.006, 0.76,0.0, 0.765,0.003, 0.77,-0.004, 0.775,0.002,
  0.78,-0.009, 0.785,0.004, 0.79,-0.002, 0.795,0.006, 0.8,-0.005, 0.805,0.001, 0.81,0.004, 0.815,-0.003,
  0.82,0.007, 0.825,-0.006, 0.83,0.002, 0.835,-0.013, 0.84,0.003, 0.845,-0.002, 0.85,0.006, 0.855,-0.004,
  0.86,0.001, 0.865,0.005, 0.87,-0.007, 0.876,0.017, 0.88,0.002, 0.885,-0.004, 0.89,0.003, 0.895,-0.002,
  0.9,0.006, 0.905,-0.005, 0.91,0.001, 0.915,0.004, 0.92,-0.003, 0.925,0.002, 0.93,-0.006, 0.935,0.003,
  0.94,0.001, 0.945,-0.004, 0.95,0.005, 0.955,-0.002, 0.96,0.003, 0.97,-0.005, 0.98,0.002, 0.99,-0.003,
  1.0,0.004, 1.01,-0.006, 1.02,0.002, 1.03,-0.004, 1.04,0.005, 1.05,-0.002, 1.06,0.003, 1.07,-0.005,
  1.08,0.001, 1.09,0.004, 1.1,-0.002,
  -0.0985,-0.006, -0.0945,0.002, -0.0915,0.008, -0.0885,-0.003, -0.0855,0.005, -0.0825,-0.008, -0.0795,0.001,
  -0.0765,0.004, -0.0735,-0.004, -0.0705,0.007, -0.0675,-0.001, -0.0645,-0.006, -0.0615,0.003, -0.0585,0.008,
  -0.0555,-0.003, -0.0525,0.001, -0.0495,0.006, -0.0465,-0.007, -0.0435,0.002, -0.0405,-0.003, -0.0375,0.007,
  -0.0345,-0.005, -0.0315,0.004, -0.0285,-0.002, -0.0255,0.001, -0.0225,0.006, -0.0195,-0.006, -0.0165,0.003,
  -0.0135,0.008, -0.0105,-0.004, -0.0075,0.001, -0.0045,0.005, -0.0015,-0.007, 0.002,0.003, 0.006,-0.002,
  0.01,0.006, 0.014,-0.006, 0.018,0.001, 0.022,0.004, 0.026,-0.004, 0.03,0.007, 0.034,-0.002, 0.038,0.003,
  0.042,-0.007, 0.046,0.001, 0.05,0.005, 0.054,-0.003, 0.058,0.007, 0.062,-0.005, 0.066,0.002, 0.07,0.004,
  0.074,-0.003, 0.078,0.006, 0.082,-0.006, 0.087,0.002, 0.092,0.006, 0.097,-0.003, 0.102,0.001, 0.107,0.007,
  0.112,-0.002, 0.117,0.003, 0.122,-0.004, 0.127,0.005, 0.132,0.001, 0.137,-0.003, 0.142,0.006, 0.147,0.002,
  0.152,-0.004, 0.157,0.005, 0.162,0.0, 0.167,0.003, 0.172,0.007, 0.178,0.001, 0.183,0.005,
  0.452,0.0, 0.457,-0.005, 0.462,0.003, 0.467,0.008, 0.472,-0.003, 0.477,0.002, 0.482,0.006, 0.487,-0.006,
  0.492,0.004, 0.497,-0.002, 0.502,0.002, 0.507,0.007, 0.512,-0.005, 0.517,0.003, 0.522,0.006, 0.527,-0.004,
  0.532,0.004, 0.537,-0.002, 0.542,0.008, 0.547,0.002, 0.552,-0.006, 0.557,0.003, 0.562,0.006, 0.567,-0.004,
  0.572,0.002, 0.577,0.007, 0.582,-0.003, 0.587,0.004, 0.592,-0.006, 0.597,0.006, 0.602,-0.002, 0.607,0.003,
  0.612,0.008, 0.617,-0.004, 0.622,0.001, 0.627,0.006, 0.632,-0.005, 0.637,0.004, 0.642,-0.002, 0.647,0.007,
  0.652,0.0, 0.657,0.005, 0.664,-0.007, 0.668,0.002, 0.672,0.006, 0.677,-0.002, 0.682,0.004, 0.687,-0.006,
  0.692,0.005, 0.697,-0.001, 0.702,0.003, 0.707,-0.006, 0.712,0.004, 0.717,-0.001, 0.722,0.006, 0.727,-0.004,
  0.732,0.002, 0.737,0.005, 0.742,-0.006, 0.747,0.001, 0.752,0.004, 0.757,-0.003, 0.762,0.006, 0.767,-0.007,
  0.772,0.002, 0.777,0.004, 0.782,-0.003, 0.787,0.007, 0.792,-0.005, 0.797,0.001, 0.802,0.005, 0.807,-0.004,
  0.812,0.002, 0.817,0.006, 0.822,-0.002, 0.827,0.004, 0.832,-0.007, 0.837,0.001, 0.842,0.005, 0.847,-0.005,
  0.852,0.002, 0.857,0.007, 0.862,-0.003, 0.867,0.002, 0.872,0.004, 0.878,-0.005, 0.882,0.006, 0.887,-0.002,
  0.892,0.003, 0.897,-0.006, 0.902,0.002, 0.907,0.005, 0.912,-0.004, 0.917,0.001, 0.922,0.006, 0.927,-0.003,
  0.932,0.004, 0.937,-0.005, 0.942,0.002, 0.947,0.005, 0.952,-0.004, 0.957,0.003, 0.962,-0.002, 0.967,0.004,
  0.975,0.001, 0.985,-0.004, 0.995,0.003, 1.005,-0.002, 1.015,0.005, 1.025,-0.004, 1.035,0.002, 1.045,-0.005,
  1.055,0.004, 1.065,0.001, 1.075,-0.004, 1.085,0.003, 1.095,-0.005];
var icResB = [-0.02,0.004, -0.01,0.012, 0.0,-0.006, 0.01,0.008, 0.02,0.0, 0.03,0.015, 0.04,-0.008, 0.05,0.01,
  0.06,-0.003, 0.07,0.018, 0.08,-0.01, 0.09,0.006, 0.1,0.022, 0.11,-0.004, 0.12,0.014, 0.13,0.018,
  0.14,-0.006, 0.15,0.008, 0.16,0.012, 0.17,-0.004, 0.955,0.008, 0.968,0.01, 0.978,-0.004, 0.99,0.014,
  1.0,0.004, 1.012,-0.008, 1.022,0.012, 1.035,-0.002, 1.048,0.016, 1.058,0.006, 1.068,-0.006, 1.078,0.012,
  1.09,0.02, 1.098,-0.01];
var vResB = [-0.03,0.006, -0.025,-0.004, -0.02,0.01, -0.015,0.002, -0.01,-0.006, -0.005,0.008, 0.0,-0.002,
  0.005,0.012, 0.01,-0.008, 0.015,0.004, 0.02,-0.012, 0.025,0.007, 0.03,-0.004, 0.035,-0.014, 0.04,0.003,
  0.045,-0.01, 0.05,0.008, 0.055,-0.016, 0.06,0.0, 0.065,-0.008, 0.07,0.01, 0.075,-0.012, 0.08,0.004,
  0.085,-0.006, 0.09,0.014, 0.095,-0.01, 0.1,0.002, 0.105,-0.018, 0.11,0.006, 0.115,-0.004, 0.12,0.012,
  0.125,-0.008, 0.13,0.004, 0.14,0.01, 0.15,0.016, 0.16,-0.002, 0.167,0.022, 0.172,0.008, 0.95,-0.004,
  0.958,0.006, 0.965,-0.008, 0.972,0.003, 0.98,-0.012, 0.985,0.008, 0.99,-0.003, 0.995,0.012, 1.0,-0.007,
  1.005,0.002, 1.01,-0.015, 1.015,0.006, 1.02,-0.004, 1.025,0.01, 1.03,-0.01, 1.035,0.003, 1.04,-0.006,
  1.045,0.014, 1.05,-0.012, 1.055,0.005, 1.06,-0.002, 1.065,0.01, 1.07,-0.016, 1.075,0.004, 1.08,-0.008,
  1.085,0.018, 1.09,-0.004, 1.095,0.008, 1.1,-0.01];

var phaseMin = -0.1, phaseMax = 1.1;

var BLACK = '#000000', GREEN = '#44cc44', BLUE = '#1f2fd6', RED = '#c41e1c', PURPLE = '#8e2a9c';
var FONT = '"Liberation Sans", Arial, Helvetica, sans-serif';
var tickFont = { family: FONT, size: 12 };
var titleFont = { family: FONT, size: 13 };

function pairs(flat) {
    var out = [];
    for (var i = 0; i < flat.length; i += 2) out.push({ x: flat[i], y: flat[i + 1] });
    return out;
}

function dots(flat, color, order) {
    return { data: pairs(flat), backgroundColor: color, borderWidth: 0, pointRadius: 1.5, order: order };
}

function curve(flat, color, width, dash, order) {
    return { data: pairs(flat), showLine: true, borderColor: color, borderWidth: width, borderDash: dash || [],
        pointRadius: 0, fill: false, tension: 0, order: order };
}

function zeroLine() {
    return curve([phaseMin, 0, phaseMax, 0], '#9a9a9a', 1, [4, 3], 10);
}

// frame with inward ticks on all four sides
var frameTicks = {
    id: 'frameTicks',
    afterDatasetsDraw: function(chart, args, o) {
        var ctx = chart.ctx, a = chart.chartArea, sx = chart.scales.x, sy = chart.scales.y;
        ctx.save();
        ctx.strokeStyle = '#4a4a4a';
        ctx.lineWidth = 1;
        ctx.strokeRect(Math.round(a.left) + 0.5, Math.round(a.top) + 0.5,
            Math.round(a.right - a.left) - 1, Math.round(a.bottom - a.top) - 1);
        ctx.beginPath();
        function each(scale, minor, major, fn) {
            var start = Math.ceil(scale.min / minor - 1e-6);
            for (var k = start; k * minor <= scale.max + 1e-9; k++) {
                var v = k * minor;
                var isMajor = Math.abs(v / major - Math.round(v / major)) < 1e-6;
                fn(Math.round(scale.getPixelForValue(v)) + 0.5, isMajor ? 5 : 2.5);
            }
        }
        each(sx, o.xMinor, o.xMajor, function(p, len) {
            if (p <= a.left + 1 || p >= a.right - 1) return;
            ctx.moveTo(p, a.bottom); ctx.lineTo(p, a.bottom - len);
            ctx.moveTo(p, a.top); ctx.lineTo(p, a.top + len);
        });
        each(sy, o.yMinor, o.yMajor, function(p, len) {
            if (p <= a.top + 1 || p >= a.bottom - 1) return;
            ctx.moveTo(a.left, p); ctx.lineTo(a.left + len, p);
            ctx.moveTo(a.right, p); ctx.lineTo(a.right - len, p);
        });
        ctx.stroke();
        ctx.restore();
    }
};

// panel name and legend, placed in data coordinates
var panelText = {
    id: 'panelText',
    afterDraw: function(chart, args, o) {
        if (!o.items) return;
        var ctx = chart.ctx, sx = chart.scales.x, sy = chart.scales.y;
        ctx.save();
        ctx.fillStyle = '#000';
        ctx.textBaseline = 'middle';
        ctx.textAlign = 'left';
        o.items.forEach(function(it) {
            var px = sx.getPixelForValue(it.x), py = sy.getPixelForValue(it.y);
            if (it.dot) {
                ctx.fillStyle = it.dot;
                ctx.beginPath();
                ctx.arc(px - 5.5, py, 2.7, 0, Math.PI * 2);
                ctx.fill();
                ctx.fillStyle = '#000';
            }
            ctx.font = '13px ' + FONT;
            if (it.sub) {
                ctx.fillText(it.text, px, py - 1);
                var w = ctx.measureText(it.text).width;
                ctx.font = '9px ' + FONT;
                ctx.fillText(it.sub, px + w + 1, py + 4);
            } else {
                ctx.fillText(it.text, px, py);
            }
        });
        ctx.restore();
    }
};

function xScale(show) {
    return {
        type: 'linear', min: phaseMin, max: phaseMax, display: show,
        grid: { display: false, drawTicks: false }, border: { display: false },
        afterBuildTicks: function(s) { s.ticks = phaseTicks.map(function(v) { return { value: v }; }); },
        afterFit: function(s) { if (show) { s.height = 45; s.paddingLeft = 0; s.paddingRight = 0; } },
        ticks: { padding: 4, color: '#000', font: tickFont, maxRotation: 0, autoSkip: false,
            callback: function(v) { return v.toFixed(1); } },
        title: { display: show, text: 'Phase', color: '#000', font: titleFont, padding: { top: 0, bottom: 11 } }
    };
}

function yScale(min, max, tickVals, fmt, title) {
    return {
        type: 'linear', min: min, max: max,
        grid: { display: false, drawTicks: false }, border: { display: false },
        afterBuildTicks: function(s) { s.ticks = tickVals.map(function(v) { return { value: v }; }); },
        afterFit: function(s) { s.width = 55; s.paddingTop = 0; s.paddingBottom = 0; },
        ticks: { padding: 3, color: '#000', font: tickFont, autoSkip: false, callback: fmt },
        title: { display: !!title, text: title || '', color: '#000', font: titleFont, padding: { top: 12, bottom: 0 } }
    };
}

var fmtFlux = function(v) { return v.toFixed(1); };
var fmtRes = function(v) { return v === 0 ? '0' : v.toFixed(2); };

function makeChart(id, datasets, xShow, y, pad, ticksOpt, texts) {
    return new Chart(document.getElementById(id), {
        type: 'scatter',
        data: { datasets: datasets },
        options: {
            responsive: false,
            animation: false,
            events: [],
            layout: { padding: pad },
            scales: { x: xScale(xShow), y: y },
            plugins: {
                legend: { display: false },
                tooltip: { enabled: false },
                frameTicks: ticksOpt,
                panelText: { items: texts || null }
            }
        },
        plugins: [frameTicks, panelText]
    });
}

var fluxTickOpt = { xMinor: 0.05, xMajor: 0.2, yMinor: 0.02, yMajor: 0.1 };
var resTickOpt = { xMinor: 0.05, xMajor: 0.2, yMinor: 0.005, yMajor: 0.02 };

makeChart('fluxA', [
    dots(clearA, BLACK, 6),
    curve(modelA, RED, 1.8, null, 5),
    curve(modelA2, RED, 1, [4, 3], 5),
    dots(icA, GREEN, 2),
    dots(vA, BLUE, 1)
], false, yScale(0.386, 1.084, fluxTicks, fmtFlux, 'Flux'),
    { left: 0, right: 28, top: 23, bottom: 3 }, fluxTickOpt,
    [{ text: 'System A', x: 0.404, y: 0.545 }]);

makeChart('resA', [
    zeroLine(),
    dots(clearResA, BLACK, 6),
    dots(icResA, GREEN, 2),
    dots(vResA, BLUE, 1)
], false, yScale(-0.0292, 0.0316, resTicks, fmtRes, null),
    { left: 0, right: 28, top: 3, bottom: 2 }, resTickOpt);

makeChart('fluxB', [
    dots(clearB, BLACK, 6),
    curve(modelB, RED, 1.8, null, 5),
    curve(modelVB1, PURPLE, 1.1, null, 4),
    curve(modelVB2, PURPLE, 1.1, null, 4),
    dots(icB, GREEN, 2),
    dots(vB, BLUE, 1)
], false, yScale(0.378, 1.083, fluxTicks, fmtFlux, 'Flux'),
    { left: 0, right: 28, top: 11, bottom: 2 }, fluxTickOpt,
    [{ text: 'System B', x: 0.404, y: 0.541 },
     { text: 'Clear', x: 0.027, y: 0.631, dot: BLACK },
     { text: 'I', sub: 'C', x: 0.03, y: 0.567, dot: GREEN },
     { text: 'V', x: 0.027, y: 0.506, dot: BLUE }]);

makeChart('resB', [
    zeroLine(),
    dots(clearResB, BLACK, 6),
    dots(icResB, GREEN, 2),
    dots(vResB, BLUE, 1)
], true, yScale(-0.0287, 0.0286, resTicks, fmtRes, null),
    { left: 0, right: 28, top: 2, bottom: 0 }, resTickOpt);
</script>
</body>
</html>
